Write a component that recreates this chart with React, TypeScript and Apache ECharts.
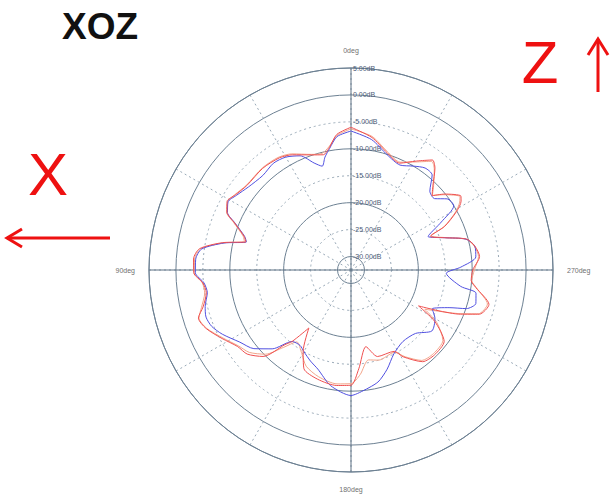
import React, { useEffect, useRef } from "react";
import * as echarts from "echarts";

// ---- data (dB versus angle, 0deg at top, angles counter-clockwise) ----
const redAngle = [0, 6, 10, 13.5, 19, 27, 32.5, 41, 51, 57, 61, 65, 68, 72.5, 75, 78, 82, 86, 91, 95, 99, 104, 107.5, 112, 118, 124, 129, 134.5, 138.5, 140.5, 144, 149.5, 154.5, 163, 173, 180, 184.5, 191, 197, 208, 211, 218, 224.5, 232.5, 238.5, 242, 248, 251, 256, 262, 265, 270, 276, 281, 285, 289, 293, 295, 299, 302, 304, 309, 312.5, 316, 320.5, 323.5, 329, 335.5, 343, 351, 360];
const redDb = [-6.0, -7.2, -9.4, -10.5, -9.9, -8.5, -7.8, -7.5, -7.6, -6.9, -6.2, -7.1, -9.2, -11.7, -12.3, -8.1, -4.1, -3.2, -3.3, -4.9, -5.3, -4.2, -2.8, -3.5, -5.4, -7.1, -7.7, -9.6, -14.0, -15.3, -19.2, -15.0, -12.2, -11.3, -10.9, -11.1, -14.1, -18.0, -15.7, -15.4, -13.7, -10.9, -10.4, -10.7, -14.3, -18.3, -10.6, -7.3, -6.1, -9.1, -10.1, -9.9, -8.5, -9.1, -10.3, -14.1, -16.5, -13.3, -10.1, -8.4, -7.9, -10.1, -12.1, -10.6, -8.0, -7.1, -8.9, -10.7, -9.7, -7.6, -6.0];

const blueAngle = [0, 6, 10, 13, 15.5, 19, 24, 30, 36, 43, 51, 57, 61, 65, 68, 72.5, 75, 78, 82, 86, 91, 95, 99, 104, 108, 112, 116.5, 123, 129, 135, 140.5, 146, 150, 156, 161.5, 170, 180, 184, 193.5, 200, 207, 216, 225.5, 233, 240, 244.5, 249, 251.5, 255, 259.5, 261.5, 268, 271.5, 276, 281, 285, 289, 293.5, 298, 302, 306.5, 310.5, 315, 319.5, 324, 329, 335, 342.5, 351, 360];
const blueDb = [-6.7, -7.6, -9.6, -11.0, -12.5, -11.5, -9.3, -8.3, -8.0, -8.5, -8.0, -7.1, -6.4, -7.2, -9.3, -11.8, -12.4, -8.4, -4.5, -3.6, -3.6, -5.1, -5.5, -4.6, -4.2, -4.6, -5.8, -7.9, -9.3, -11.8, -15.3, -15.6, -15.0, -14.0, -13.1, -10.7, -9.2, -9.7, -11.1, -12.9, -15.0, -16.1, -15.7, -13.7, -14.5, -15.8, -13.0, -9.9, -8.5, -8.9, -11.9, -14.8, -12.1, -9.2, -9.1, -10.4, -14.1, -16.9, -13.5, -10.0, -10.3, -12.1, -11.8, -9.3, -9.1, -10.0, -11.0, -10.1, -8.0, -6.7];

const salmonAngle = [0, 6, 10, 14, 19, 27, 33, 41, 51, 57, 61, 65, 68, 72.5, 75, 78, 82, 86, 91, 95, 99, 104, 107.5, 112, 118, 124, 129, 134.5, 139, 143, 149.5, 155, 163, 173, 180, 185, 191, 197, 208, 212, 218, 224.5, 232.5, 238.5, 242, 248, 251, 256, 262, 265, 270, 276, 281, 285, 289, 293, 295, 299, 302, 304, 309, 312.5, 316, 320.5, 323.5, 329, 335.5, 343, 351, 360];
const salmonDb = [-6.3, -7.4, -9.2, -10.2, -9.8, -8.3, -7.6, -7.4, -7.5, -6.8, -6.3, -7.0, -9.0, -11.5, -12.0, -8.3, -4.3, -3.4, -3.4, -4.8, -5.0, -3.9, -2.9, -3.6, -5.6, -7.3, -8.2, -10.2, -13.5, -15.8, -14.5, -12.8, -11.8, -11.2, -11.4, -13.0, -15.5, -15.0, -15.2, -13.5, -11.2, -10.7, -11.0, -13.8, -17.0, -10.9, -7.5, -6.4, -9.0, -10.0, -9.6, -8.7, -9.2, -10.4, -14.0, -16.3, -13.4, -10.3, -8.7, -8.1, -10.3, -12.0, -10.4, -8.2, -7.4, -9.1, -10.5, -9.5, -7.4, -6.3];

// radius axis scale (dB) and ring styles
const radiusMin = -32.5;
const radiusMax = 5;
const radiusStep = 2.5;
const solidRings = [-30, -20, -10, 0, 5];
const dottedRings = [-25, -15, -5];
const angleLabels = [0, 90, 180, 270];

const CENTER: [number, number] = [351, 270];
const RADIUS = 202;

export default function App() {
  const ref = useRef<HTMLDivElement>(null);

  useEffect(() => {
    if (!ref.current) return;
    const chart = echarts.init(ref.current, undefined, { renderer: "svg" });

    const ticks: number[] = [];
    for (let v = radiusMin; v <= radiusMax + 1e-9; v += radiusStep) ticks.push(v);
    const solidColor = "#6d8193";
    const dotColor = "#9aaab8";
    const solidColors = ticks.map((v) => (solidRings.includes(v) ? solidColor : "rgba(0,0,0,0)"));
    const dottedColors = ticks.map((v) => (dottedRings.includes(v) ? dotColor : "rgba(0,0,0,0)"));

    const mk = (a: number[], d: number[]) => a.map((ang, i) => [d[i], ang]);

    const option: any = {
      animation: false,
      textStyle: { fontFamily: "Liberation Sans" },
      polar: [
        { center: CENTER, radius: RADIUS },
        { center: CENTER, radius: RADIUS },
      ],
      angleAxis: [
        {
          polarIndex: 0,
          type: "value",
          min: 0,
          max: 360,
          interval: 90,
          startAngle: 90,
          clockwise: false,
          axisLine: { show: true, lineStyle: { color: solidColor, width: 1 } },
          axisTick: { show: false },
          axisLabel: {
            show: true,
            margin: 14,
            fontSize: 7,
            color: "#707070",
            formatter: (v: number) => (angleLabels.includes(v) ? v + "deg" : ""),
          },
          splitLine: { show: true, lineStyle: { color: "#5d7083", width: 1, type: "solid" } },
          z: 1,
        },
        {
          polarIndex: 1,
          type: "value",
          min: 0,
          max: 360,
          interval: 30,
          startAngle: 90,
          clockwise: false,
          axisLine: { show: false },
          axisTick: { show: false },
          axisLabel: { show: false },
          splitLine: { show: true, lineStyle: { color: dotColor, width: 1, type: [2, 3] } },
          z: 0,
        },
      ],
      radiusAxis: [
        {
          polarIndex: 0,
          type: "value",
          min: radiusMin,
          max: radiusMax,
          interval: radiusStep,
          axisLine: { show: false },
          axisTick: { show: false },
          axisLabel: {
            show: true,
            margin: -2,
            align: "left",
            fontSize: 7,
            color: "#4d5d78",
            formatter: (v: number) =>
              Math.abs(v % 5) < 1e-9 ? (Math.abs(v) < 1e-9 ? 0 : v).toFixed(2) + "dB" : "",
          },
          splitLine: { show: true, lineStyle: { color: solidColors, width: 1, type: "solid" } },
          z: 1,
        },
        {
          polarIndex: 1,
          type: "value",
          min: radiusMin,
          max: radiusMax,
          interval: radiusStep,
          axisLine: { show: false },
          axisTick: { show: false },
          axisLabel: { show: false },
          splitLine: { show: true, lineStyle: { color: dottedColors, width: 1, type: [2, 3] } },
          z: 0,
        },
      ],
      series: [
        {
          name: "salmon",
          type: "line",
          coordinateSystem: "polar",
          polarIndex: 0,
          data: mk(salmonAngle, salmonDb),
          smooth: 0.25,
          showSymbol: false,
          lineStyle: { color: "#f2a58a", width: 1 },
          z: 3,
        },
        {
          name: "blue",
          type: "line",
          coordinateSystem: "polar",
          polarIndex: 0,
          data: mk(blueAngle, blueDb),
          smooth: 0.25,
          showSymbol: false,
          lineStyle: { color: "#5050e0", width: 1 },
          z: 4,
        },
        {
          name: "red",
          type: "line",
          coordinateSystem: "polar",
          polarIndex: 0,
          data: mk(redAngle, redDb),
          smooth: 0.25,
          showSymbol: false,
          lineStyle: { color: "#ef5050", width: 1 },
          z: 5,
        },
      ],
      graphic: [
        {
          type: "text",
          x: 62,
          y: 26,
          style: {
            text: "XOZ",
            font: "bold 37px 'Liberation Sans'",
            fill: "#111111",
            verticalAlign: "middle",
            align: "left",
          },
        },
        {
          type: "text",
          x: 540,
          y: 62,
          style: {
            text: "Z",
            font: "60px 'Liberation Sans'",
            fill: "#ee1111",
            verticalAlign: "middle",
            align: "center",
          },
        },
        {
          type: "text",
          x: 48,
          y: 174,
          style: {
            text: "X",
            font: "60px 'Liberation Sans'",
            fill: "#ee1111",
            verticalAlign: "middle",
            align: "center",
          },
        },
        { type: "line", shape: { x1: 598, y1: 39, x2: 598, y2: 92 }, style: { stroke: "#ee1111", lineWidth: 3 } },
        { type: "polyline", shape: { points: [[588, 55], [598, 39], [608, 55]] }, style: { stroke: "#ee1111", lineWidth: 3, fill: "none" } },
        { type: "line", shape: { x1: 7, y1: 238, x2: 110, y2: 238 }, style: { stroke: "#ee1111", lineWidth: 3 } },
        { type: "polyline", shape: { points: [[22, 229], [7, 238], [22, 247]] }, style: { stroke: "#ee1111", lineWidth: 3, fill: "none" } },
      ],
    };

    chart.setOption(option);
    return () => chart.dispose();
  }, []);

  return (
    <div
      ref={ref}
      style={{ position: "absolute", left: 0, top: 0, width: 613, height: 499, background: "#ffffff" }}
    />
  );
}
